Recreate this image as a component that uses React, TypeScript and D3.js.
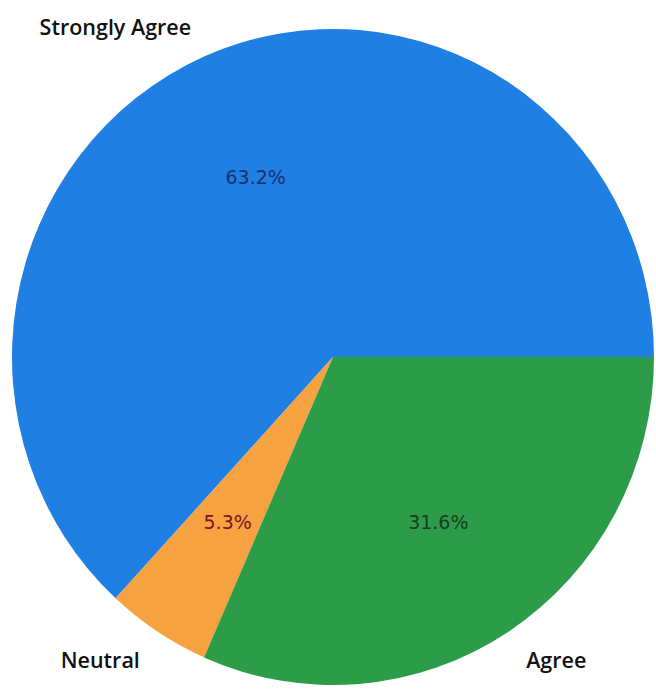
import React from "react";
import * as d3 from "d3";

const categories = ["Strongly Agree", "Neutral", "Agree"];
const counts = [12, 1, 6];
const colors = ["#1f7fe2", "#f6a240", "#2c9c48"];
const pctColors = ["#1b2f70", "#7a1424", "#173c22"];

export default function App() {
  const W = 656;
  const H = 689;
  const cx = 333;
  const cy = 357;
  const r = 321;
  const sy = 1.022;

  const data = categories.map((c, i) => ({ label: c, value: counts[i] }));
  // matplotlib: start at 3 o'clock, counterclockwise
  const pie = d3
    .pie<{ label: string; value: number }>()
    .sort(null)
    .value((d) => d.value)
    .startAngle(Math.PI / 2)
    .endAngle(Math.PI / 2 - 2 * Math.PI);
  const arcs = pie(data);
  const arc = d3.arc<d3.PieArcDatum<{ label: string; value: number }>>().innerRadius(0).outerRadius(r);
  const total = d3.sum(counts);

  return (
    <svg width={W} height={H} style={{ position: "absolute", left: 0, top: 0, background: "#fff" }}>
      <g transform={`translate(${cx},${cy}) scale(1,${sy})`}>
        {arcs.map((a, i) => (
          <path key={i} d={arc(a) || ""} fill={colors[i]} />
        ))}
      </g>
      {arcs.map((a, i) => {
        const mid = (a.startAngle + a.endAngle) / 2;
        const lx = cx + Math.sin(mid) * r * 1.1;
        const ly = cy - Math.cos(mid) * r * 1.1 * sy;
        const px = cx + Math.sin(mid) * r * 0.6;
        const py = cy - Math.cos(mid) * r * 0.6 * sy;
        const pct = ((counts[i] / total) * 100).toFixed(1) + "%";
        return (
          <g key={i}>
            <text
              x={lx}
              y={ly}
              textAnchor={Math.sin(mid) < 0 ? "end" : "start"}
              dominantBaseline="central"
              fontFamily="'Open Sans', sans-serif"
              fontWeight={600}
              fontSize={21.5}
              fill="#111"
            >
              {a.data.label}
            </text>
            <text
              x={px}
              y={py}
              textAnchor="middle"
              dominantBaseline="central"
              fontFamily="'DejaVu Sans', sans-serif"
              fontSize={19}
              fill={pctColors[i]}
            >
              {pct}
            </text>
          </g>
        );
      })}
    </svg>
  );
}
